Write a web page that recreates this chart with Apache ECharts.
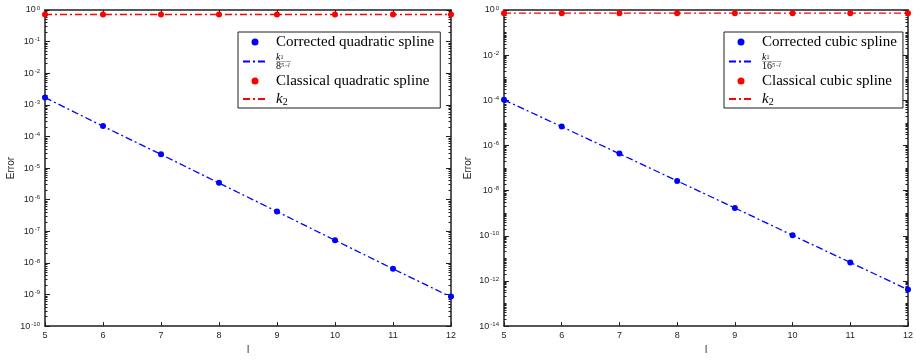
<!DOCTYPE html>
<html>
<head>
<meta charset="utf-8">
<script src="https://cdn.jsdelivr.net/npm/echarts@6/dist/echarts.min.js"></script>
<style>
  html, body { margin: 0; padding: 0; background: #fff; }
  #main { width: 916px; height: 360px; }
</style>
</head>
<body>
<div id="main"></div>
<script>
// refinement level l
const levels = [5, 6, 7, 8, 9, 10, 11, 12]

// quadratic spline errors (left panel)
const quadCorrected = [1.7e-3, 2.15e-4, 2.75e-5, 3.4e-6, 4.2e-7, 5.2e-8, 6.5e-9, 8.6e-10]
const quadFit = [1.7e-3, 2.1e-4, 2.7e-5, 3.35e-6, 4.2e-7, 5.2e-8, 6.5e-9, 8.3e-10]
const quadClassical = [0.72, 0.72, 0.72, 0.72, 0.72, 0.72, 0.72, 0.72]
const quadK2 = [0.72, 0.72, 0.72, 0.72, 0.72, 0.72, 0.72, 0.72]

// cubic spline errors (right panel)
const cubicCorrected = [1.05e-4, 7.0e-6, 4.4e-7, 2.7e-8, 1.7e-9, 1.05e-10, 6.5e-12, 4.2e-13]
const cubicFit = [1.05e-4, 6.8e-6, 4.3e-7, 2.7e-8, 1.7e-9, 1.05e-10, 6.6e-12, 4.1e-13]
const cubicClassical = [0.72, 0.72, 0.72, 0.72, 0.72, 0.72, 0.72, 0.72]
const cubicK2 = [0.72, 0.72, 0.72, 0.72, 0.72, 0.72, 0.72, 0.72]

// labelled decades (exponents of 10)
const quadDecades = [0, -1, -2, -3, -4, -5, -6, -7, -8, -9, -10]
const cubicDecades = [0, -2, -4, -6, -8, -10, -12, -14]

const names = {
  qc: 'Corrected quadratic spline',
  qf: 'k1/8^(5-l)',
  ql: 'Classical quadratic spline',
  qk: 'k2 quad',
  cc: 'Corrected cubic spline',
  cf: 'k1/16^(5-l)',
  cl: 'Classical cubic spline',
  ck: 'k2 cubic'
}

const ink = '#1f1f1f'
const blue = '#0000ff'
const red = '#ff0000'
const dashDot = [7, 3, 2, 3]

const pairs = (ys) => levels.map((x, i) => [x, ys[i]])

const majorValues = (decades) => decades.map((e) => Math.pow(10, e))
// log minor ticks 2..9 in every decade, plus unlabelled decades
const minorValues = (decades) => {
  const lo = Math.min(...decades)
  const out = []
  for (let e = lo; e < 0; e++) {
    if (decades.indexOf(e) < 0) out.push(Math.pow(10, e))
    for (let m = 2; m <= 9; m++) out.push(m * Math.pow(10, e))
  }
  return out
}

const expLabel = (v) => {
  const e = Math.round(Math.log10(v))
  return '{b|10}{s|' + (e < 0 ? '-' + -e : e) + '}'
}

const xAxisOf = (gridIndex, top) => ({
  gridIndex,
  type: 'value',
  position: top ? 'top' : 'bottom',
  min: 5,
  max: 12,
  interval: 1,
  name: top ? '' : 'l',
  nameLocation: 'middle',
  nameGap: 18,
  nameTextStyle: { fontFamily: 'Liberation Sans', fontSize: 10, color: ink },
  axisLine: { onZero: false, lineStyle: { color: ink, width: 1.5 } },
  axisTick: { inside: true, length: 4, lineStyle: { color: ink } },
  axisLabel: {
    show: !top,
    fontFamily: 'Liberation Sans',
    fontSize: 9,
    color: ink,
    margin: 5
  },
  splitLine: { show: false }
})

// kind: 'major' (line, labels, long ticks) or 'minor' (short ticks only)
const yAxisOf = (gridIndex, right, decades, kind, gap) => {
  const major = kind === 'major'
  return {
    gridIndex,
    type: 'log',
    logBase: 10,
    position: right ? 'right' : 'left',
    min: Math.pow(10, Math.min(...decades)),
    max: 1,
    name: !right && major ? 'Error' : '',
    nameLocation: 'middle',
    nameGap: gap,
    nameTextStyle: { fontFamily: 'Liberation Sans', fontSize: 10, color: ink },
    axisLine: { show: major, onZero: false, lineStyle: { color: ink, width: 1.5 } },
    axisTick: {
      inside: true,
      length: major ? 5 : 2.5,
      customValues: major ? majorValues(decades) : minorValues(decades),
      lineStyle: { color: ink, width: 1 }
    },
    axisLabel: {
      show: !right && major,
      customValues: majorValues(decades),
      formatter: expLabel,
      margin: 5,
      rich: {
        b: { fontFamily: 'Liberation Sans', fontSize: 9, color: ink, lineHeight: 10 },
        s: { fontFamily: 'Liberation Sans', fontSize: 6, color: ink, lineHeight: 3, verticalAlign: 'top', padding: [0, 0, 0, 1] }
      }
    },
    splitLine: { show: false }
  }
}

const dots = (name, xi, data, color) => ({
  name,
  type: 'scatter',
  xAxisIndex: xi,
  yAxisIndex: xi,
  symbol: 'circle',
  symbolSize: 6,
  itemStyle: { color, opacity: 1 },
  data: pairs(data),
  z: 3
})

const dashLine = (name, xi, data, color) => ({
  name,
  type: 'line',
  xAxisIndex: xi,
  yAxisIndex: xi,
  symbol: 'none',
  lineStyle: { color, width: 1.3, type: dashDot },
  itemStyle: { color },
  data: pairs(data),
  z: 2
})

const legendText = (name) => {
  if (name === names.qf) return '{n|k}{ns|1}\n{bar|———}\n{d|8}{ds|5−l}'
  if (name === names.cf) return '{n|k}{ns|1}\n{bar|————}\n{d|16}{ds|5−l}'
  if (name === names.qk || name === names.ck) return '{k|k}{ks|2}'
  return name
}

const legendRich = {
  n: { fontFamily: 'Liberation Serif', fontStyle: 'italic', fontSize: 10, lineHeight: 7, color: '#000' },
  ns: { fontFamily: 'Liberation Serif', fontSize: 6, lineHeight: 5, verticalAlign: 'bottom', color: '#000' },
  bar: { fontFamily: 'DejaVu Sans', fontSize: 5, lineHeight: 2, color: '#000' },
  d: { fontFamily: 'Liberation Serif', fontSize: 10, lineHeight: 7, color: '#000' },
  ds: { fontFamily: 'Liberation Serif', fontStyle: 'italic', fontSize: 6, lineHeight: 5, verticalAlign: 'top', color: '#000' },
  k: { fontFamily: 'Liberation Serif', fontStyle: 'italic', fontSize: 15, lineHeight: 16, color: '#000' },
  ks: { fontFamily: 'Liberation Serif', fontSize: 10, lineHeight: 9, verticalAlign: 'bottom', color: '#000' }
}

// the dash-dot entries show only their line, no marker
const lineEntry = (name) => ({ name, itemStyle: { opacity: 0 } })

const legendOf = (left, data) => ({
  orient: 'vertical',
  left,
  top: 32,
  padding: [2, 6, 1, 4],
  itemGap: 2,
  itemWidth: 24,
  itemHeight: 7,
  backgroundColor: '#fff',
  borderColor: ink,
  borderWidth: 1,
  borderRadius: 0,
  selectedMode: false,
  data,
  formatter: legendText,
  textStyle: {
    fontFamily: 'Liberation Serif',
    fontSize: 15,
    lineHeight: 16,
    color: '#000',
    padding: [0, 0, 0, 4],
    rich: legendRich
  }
})

const chart = echarts.init(document.getElementById('main'))

const option = {
  animation: false,
  backgroundColor: '#fff',
  grid: [
    { left: 45, right: 465, top: 10, bottom: 30 },
    { left: 504, right: 5, top: 10, bottom: 30 }
  ],
  xAxis: [xAxisOf(0, false), xAxisOf(1, false), xAxisOf(0, true), xAxisOf(1, true)],
  yAxis: [
    yAxisOf(0, false, quadDecades, 'major', 29),
    yAxisOf(1, false, cubicDecades, 'major', 31),
    yAxisOf(0, false, quadDecades, 'minor', 0),
    yAxisOf(1, false, cubicDecades, 'minor', 0),
    yAxisOf(0, true, quadDecades, 'major', 0),
    yAxisOf(1, true, cubicDecades, 'major', 0),
    yAxisOf(0, true, quadDecades, 'minor', 0),
    yAxisOf(1, true, cubicDecades, 'minor', 0)
  ],
  legend: [
    legendOf(238, [names.qc, lineEntry(names.qf), names.ql, lineEntry(names.qk)]),
    legendOf(724, [names.cc, lineEntry(names.cf), names.cl, lineEntry(names.ck)])
  ],
  series: [
    dashLine(names.qf, 0, quadFit, blue),
    dots(names.qc, 0, quadCorrected, blue),
    dashLine(names.qk, 0, quadK2, red),
    dots(names.ql, 0, quadClassical, red),
    dashLine(names.cf, 1, cubicFit, blue),
    dots(names.cc, 1, cubicCorrected, blue),
    dashLine(names.ck, 1, cubicK2, red),
    dots(names.cl, 1, cubicClassical, red)
  ]
}

chart.setOption(option)
</script>
</body>
</html>
